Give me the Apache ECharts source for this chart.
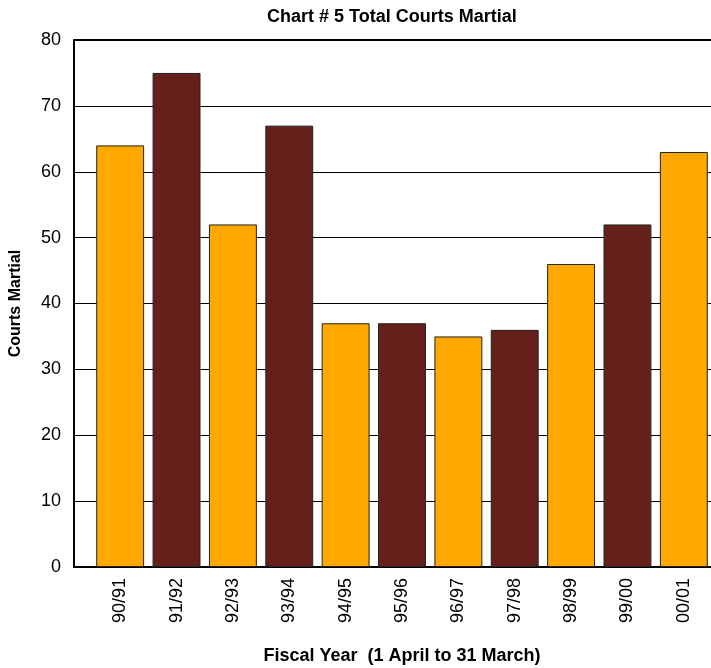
<!DOCTYPE html>
<html>
<head>
<meta charset="utf-8">
<script src="https://cdn.jsdelivr.net/npm/echarts@6/dist/echarts.min.js"></script>
<style>html,body{margin:0;padding:0;background:#fff}#c{width:711px;height:668px}</style>
</head>
<body>
<div id="c"></div>
<script>
const categories = ['90/91','91/92','92/93','93/94','94/95','95/96','96/97','97/98','98/99','99/00','00/01'];
const courtsMartial = [64, 75, 52, 67, 37, 37, 35, 36, 46, 52, 63];
const barColors = ['#FFA800', '#65201B'];
const yTicks = [0, 10, 20, 30, 40, 50, 60, 70, 80];

const FONT = '"Liberation Sans", Arial, Helvetica, sans-serif';
const chart = echarts.init(document.getElementById('c'), null, {renderer: 'canvas'});
chart.setOption({
  animation: false,
  backgroundColor: '#fff',
  title: {
    text: 'Chart # 5 Total Courts Martial',
    left: 262, top: 3,
    textStyle: {fontFamily: FONT, fontSize: 18, fontWeight: 'bold', color: '#000'}
  },
  grid: [
    {left: 74, top: 40, width: 640, height: 527, containLabel: false, outerBoundsMode: 'none'},
    {left: 92, top: 40, width: 620, height: 527, containLabel: false, outerBoundsMode: 'none'}
  ],
  xAxis: [
    {gridIndex: 0, type: 'category', position: 'bottom', data: [''], axisLine: {show: true, lineStyle: {color: '#000', width: 2}}, axisTick: {show: false}, axisLabel: {show: false}},
    {gridIndex: 0, type: 'category', position: 'top', data: [''], axisLine: {show: true, lineStyle: {color: '#000', width: 2}}, axisTick: {show: false}, axisLabel: {show: false}},
    {gridIndex: 1, type: 'category', data: categories,
     axisLine: {show: false}, axisTick: {show: false},
     axisLabel: {rotate: 90, margin: 11, fontFamily: FONT, fontSize: 18, color: '#000', interval: 0},
     name: 'Fiscal Year  (1 April to 31 March)', nameLocation: 'middle', nameGap: 80,
     nameTextStyle: {fontFamily: FONT, fontSize: 18, fontWeight: 'bold', color: '#000'}}
  ],
  yAxis: [
    {gridIndex: 0, type: 'value', min: yTicks[0], max: yTicks[yTicks.length-1], interval: 10,
     axisLine: {show: true, lineStyle: {color: '#000', width: 2}}, axisTick: {show: false},
     axisLabel: {margin: 13, fontFamily: FONT, fontSize: 18, color: '#000'},
     splitLine: {show: true, lineStyle: {color: '#000', width: 1}},
     name: 'Courts Martial', nameLocation: 'middle', nameGap: 50,
     nameTextStyle: {fontFamily: FONT, fontSize: 16, fontWeight: 'bold', color: '#000'}},
    {gridIndex: 1, type: 'value', min: 0, max: 80, interval: 10, show: false}
  ],
  series: [{
    type: 'bar', xAxisIndex: 2, yAxisIndex: 1,
    data: courtsMartial.map((v, i) => ({value: v, itemStyle: {color: barColors[i % 2]}})),
    barWidth: '85%',
    itemStyle: {borderColor: '#222', borderWidth: 1}
  }]
});
</script>
</body>
</html>
